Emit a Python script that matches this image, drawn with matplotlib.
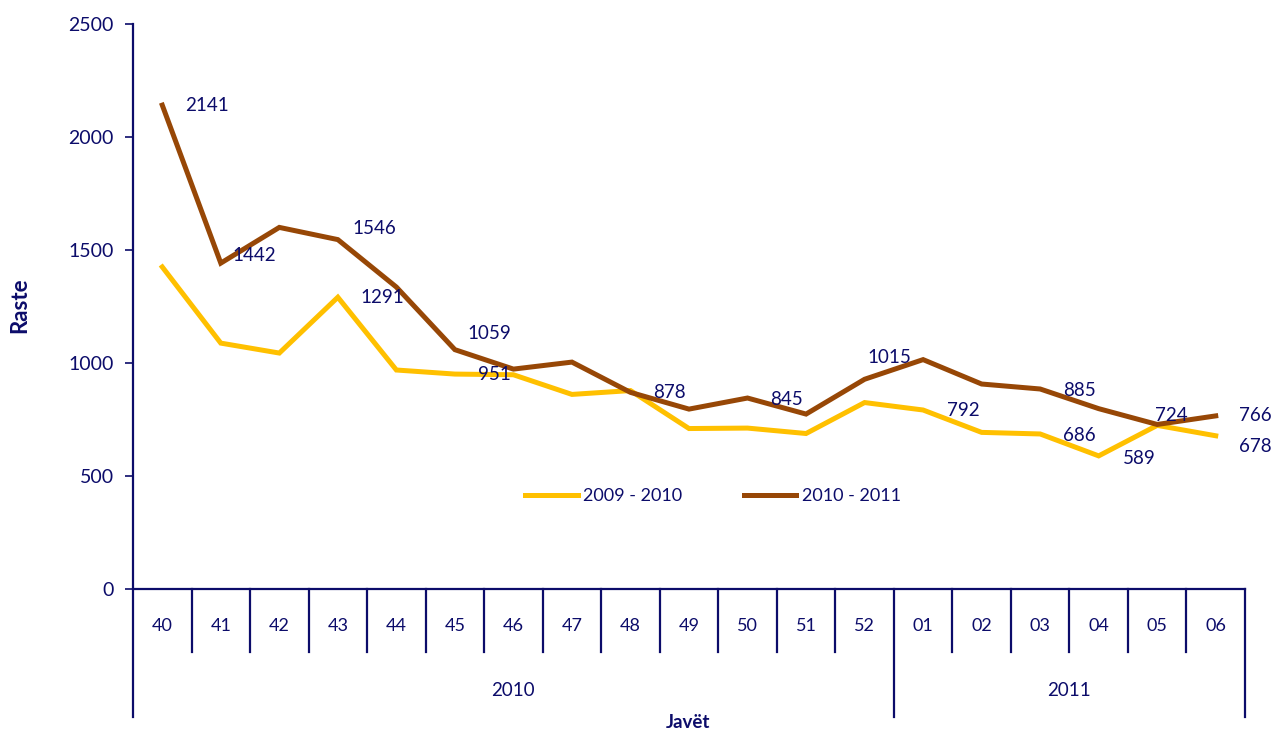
import matplotlib
matplotlib.use("Agg")
import matplotlib.pyplot as plt

weeks = ["40", "41", "42", "43", "44", "45", "46", "47", "48", "49", "50", "51", "52",
         "01", "02", "03", "04", "05", "06"]
years = ["2010", "2011"]
year_spans = [(0, 12), (13, 18)]
s_2009_2010 = [1425, 1088, 1044, 1291, 969, 951, 948, 861, 878, 710, 712, 688, 825,
               792, 693, 686, 589, 724, 678]
s_2010_2011 = [2141, 1442, 1600, 1546, 1336, 1059, 973, 1004, 870, 796, 845, 774, 928,
               1015, 907, 885, 798, 728, 766]
series_names = ["2009 - 2010", "2010 - 2011"]

# which points carry a value label (series index, point index) and label offsets in px
label_points = [(1, 0), (1, 1), (1, 3), (0, 3), (1, 5), (0, 5), (0, 8), (1, 10),
                (1, 13), (0, 13), (1, 15), (0, 15), (0, 16), (0, 17), (1, 18), (0, 18)]
label_offsets = [(23, 0), (12, 8), (15, 11), (23, 0), (13, 16), (23, 0), (23, -2), (23, -1),
                 (-56, 2), (24, 0), (23, -2), (23, -2), (24, -3), (-2, 10), (23, 0), (23, -11)]

NAVY = "#0c0c6a"
COLORS = ["#FFC000", "#974706"]
plt.rcParams["font.family"] = ["Lato", "DejaVu Sans"]

W, H = 1273, 733
fig = plt.figure(figsize=(W / 100, H / 100), dpi=100)
L, R, T, B = 133, 1245, 24, 589
ax = fig.add_axes([L / W, 1 - B / H, (R - L) / W, (B - T) / H])

x = list(range(len(weeks)))
data = [s_2009_2010, s_2010_2011]
lines = []
for vals, c, name in zip(data, COLORS, series_names):
    ln, = ax.plot(x, vals, color=c, lw=3.6, solid_joinstyle="miter", label=name, zorder=3)
    lines.append(ln)

for (si, pi), (dx, dy) in zip(label_points, label_offsets):
    ax.annotate(str(data[si][pi]), (pi, data[si][pi]), xytext=(dx, dy),
                textcoords="offset pixels", ha="left", va="center",
                fontsize=13.5, color=NAVY, zorder=4)

ax.set_xlim(-0.5, len(weeks) - 0.5)
ax.set_ylim(0, 2500)
ax.set_yticks([0, 500, 1000, 1500, 2000, 2500])
ax.tick_params(axis="y", colors=NAVY, labelsize=14, length=6, width=1.2, direction="out", pad=8)
ax.set_xticks([])
for s in ["top", "right", "left", "bottom"]:
    ax.spines[s].set_visible(False)

tr = ax.get_xaxis_transform()
px = 1.0 / (B - T)
y_short = -(652 - B) * px
y_long = -(717 - B) * px
kw = dict(color=NAVY, lw=1.6, clip_on=False, transform=tr, zorder=5)
# y axis line (extended into category area)
ax.plot([-0.5, -0.5], [1.0, y_long], **kw)
# baseline
ax.plot([-0.5, len(weeks) - 0.5], [0, 0], **kw)
# category separators
year_bounds = {s - 0.5 for s, e in year_spans} | {e + 0.5 for s, e in year_spans}
for i in range(1, len(weeks) + 1):
    xb = i - 0.5
    if xb in year_bounds:
        ax.plot([xb, xb], [0, y_long], **kw)
    else:
        ax.plot([xb, xb], [0, y_short], **kw)

y_cat = -(626 - B) * px
for i, w in enumerate(weeks):
    ax.text(i, y_cat, w, transform=tr, ha="center", va="center", fontsize=13, color=NAVY)
y_year = -(690 - B) * px
for yr, (s, e) in zip(years, year_spans):
    ax.text((s - 0.5 + e + 0.5) / 2, y_year, yr, transform=tr, ha="center", va="center",
            fontsize=13.5, color=NAVY)

fig.text(688 / W, 1 - 722 / H, "Javët", ha="center", va="center", fontsize=13.5,
         fontweight="bold", color=NAVY)
fig.text(20 / W, 1 - 305 / H, "Raste", ha="center", va="center", rotation=90,
         fontsize=16, fontweight="bold", color=NAVY)

leg = ax.legend(handles=lines, loc="center", bbox_to_anchor=((713 - L) / (R - L), (B - 496) / (B - T)),
                ncol=2, frameon=False, fontsize=13, handlelength=2.9, columnspacing=3.4,
                handletextpad=0.3, labelcolor=NAVY)

fig.savefig("out.png", dpi=100, facecolor="white")
